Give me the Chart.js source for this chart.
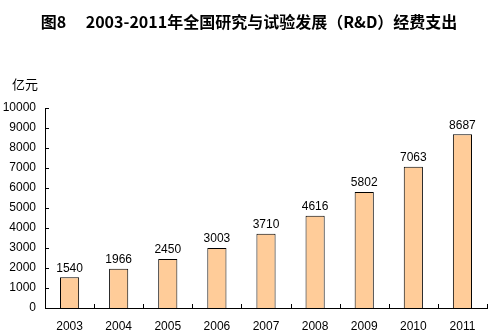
<!DOCTYPE html>
<html>
<head>
<meta charset="utf-8">
<script src="https://cdn.jsdelivr.net/npm/chart.js@4"></script>
<style>
  html, body { margin: 0; padding: 0; background: #fff; }
  canvas { display: block; }
</style>
</head>
<body>
<canvas id="chart" width="494" height="335"></canvas>
<script>
// data
const years = ["2003", "2004", "2005", "2006", "2007", "2008", "2009", "2010", "2011"];
const spending = [1540, 1966, 2450, 3003, 3710, 4616, 5802, 7063, 8687];
const yTicks = [0, 1000, 2000, 3000, 4000, 5000, 6000, 7000, 8000, 9000, 10000];

const titleText = "图8\u3000 2003-2011年全国研究与试验发展（R&D）经费支出";
const unitText = "亿元";
const numFont = "12px 'Liberation Sans', 'DejaVu Sans', sans-serif";

// title, unit, value labels and inward tick marks
const extras = {
  id: "extras",
  afterDraw(chart) {
    const ctx = chart.ctx;
    const area = chart.chartArea;
    const x = chart.scales.x;
    const y = chart.scales.y;
    ctx.save();

    ctx.fillStyle = "#000";
    ctx.textAlign = "center";
    ctx.textBaseline = "middle";
    ctx.font = "bold 16px 'Noto Sans CJK SC', sans-serif";
    ctx.fillText(titleText, 249, 22);

    ctx.font = "13px 'Noto Sans CJK SC', sans-serif";
    ctx.textAlign = "left";
    ctx.fillText(unitText, 12, 84);

    // tick marks pointing into the plot
    ctx.strokeStyle = "#000";
    ctx.lineWidth = 1;
    ctx.beginPath();
    yTicks.forEach(v => {
      const py = Math.round(y.getPixelForValue(v)) + 0.5;
      ctx.moveTo(area.left, py);
      ctx.lineTo(area.left + 4, py);
    });
    const step = (area.right - area.left) / years.length;
    for (let i = 1; i <= years.length; i++) {
      const px = Math.round(area.left + step * i) + 0.5;
      ctx.moveTo(px, area.bottom);
      ctx.lineTo(px, area.bottom - 4);
    }
    ctx.stroke();

    // values above bars
    ctx.font = numFont;
    ctx.textAlign = "center";
    ctx.textBaseline = "bottom";
    chart.getDatasetMeta(0).data.forEach((bar, i) => {
      ctx.fillText(String(spending[i]), bar.x, bar.y - 3);
    });
    ctx.restore();
  }
};

new Chart(document.getElementById("chart"), {
  type: "bar",
  data: {
    labels: years,
    datasets: [{
      data: spending,
      backgroundColor: "#FFCC99",
      borderColor: "#000",
      borderWidth: 1,
      barPercentage: 0.78,
      categoryPercentage: 0.5
    }]
  },
  options: {
    responsive: false,
    animation: false,
    devicePixelRatio: 1,
    layout: { padding: { top: 108, right: 7, left: 0, bottom: 0 } },
    plugins: {
      legend: { display: false },
      tooltip: { enabled: false },
      title: { display: false }
    },
    scales: {
      x: {
        afterFit(scale) { scale.height = 27; },
        grid: { display: false, drawTicks: false },
        border: { display: true, color: "#000", width: 1 },
        ticks: { color: "#000", font: { family: "'Liberation Sans', sans-serif", size: 12 }, padding: 11, maxRotation: 0 }
      },
      y: {
        min: 0,
        max: 10000,
        afterBuildTicks(scale) {
          scale.ticks = yTicks.map(v => ({ value: v }));
        },
        afterFit(scale) { scale.width = 45; },
        grid: { display: false, drawTicks: false },
        border: { display: true, color: "#000", width: 1 },
        ticks: {
          color: "#000",
          font: { family: "'Liberation Sans', sans-serif", size: 12 },
          padding: 9,
          callback: v => String(v)
        }
      }
    }
  },
  plugins: [extras]
});
</script>
</body>
</html>
